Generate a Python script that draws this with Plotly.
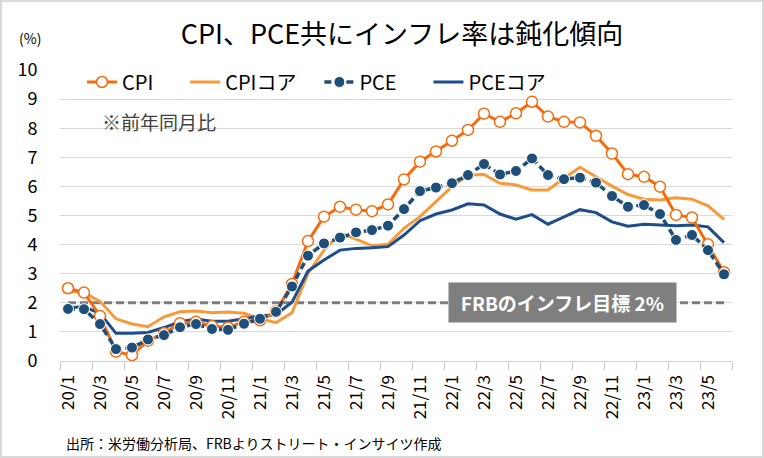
import plotly.graph_objects as go

months = ["20/1","20/2","20/3","20/4","20/5","20/6","20/7","20/8","20/9","20/10","20/11","20/12",
          "21/1","21/2","21/3","21/4","21/5","21/6","21/7","21/8","21/9","21/10","21/11","21/12",
          "22/1","22/2","22/3","22/4","22/5","22/6","22/7","22/8","22/9","22/10","22/11","22/12",
          "23/1","23/2","23/3","23/4","23/5","23/6"]

tick_labels = ["20/1","20/3","20/5","20/7","20/9","20/11","21/1","21/3","21/5","21/7","21/9",
               "21/11","22/1","22/3","22/5","22/7","22/9","22/11","23/1","23/3","23/5"]

cpi = [2.5, 2.35, 1.55, 0.32, 0.2, 0.7, 0.95, 1.3, 1.35, 1.2, 1.15, 1.35,
       1.4, 1.7, 2.65, 4.12, 4.96, 5.3, 5.2, 5.15, 5.38, 6.24, 6.85, 7.2,
       7.57, 7.94, 8.5, 8.22, 8.51, 8.91, 8.4, 8.22, 8.2, 7.74, 7.13, 6.42,
       6.33, 5.99, 5.02, 4.93, 4.01, 3.05]

cpi_core = [2.4, 2.35, 2.05, 1.45, 1.27, 1.18, 1.52, 1.69, 1.72, 1.66, 1.68, 1.64,
            1.45, 1.32, 1.66, 3.01, 3.81, 4.39, 4.19, 3.96, 4.01, 4.56, 4.96, 5.48,
            5.99, 6.39, 6.41, 6.11, 6.05, 5.88, 5.88, 6.28, 6.66, 6.33, 6.01, 5.72,
            5.56, 5.53, 5.61, 5.56, 5.33, 4.87]

pce = [1.79, 1.78, 1.27, 0.41, 0.46, 0.74, 0.89, 1.16, 1.27, 1.10, 1.07, 1.28,
       1.45, 1.69, 2.56, 3.62, 4.04, 4.24, 4.42, 4.50, 4.65, 5.22, 5.84, 5.96,
       6.11, 6.39, 6.77, 6.41, 6.53, 6.96, 6.39, 6.25, 6.30, 6.13, 5.67, 5.30,
       5.36, 5.05, 4.16, 4.33, 3.81, 2.98]

pce_core = [1.83, 1.86, 1.64, 0.95, 0.95, 0.98, 1.15, 1.35, 1.44, 1.37, 1.37, 1.46,
            1.54, 1.60, 2.02, 3.09, 3.47, 3.81, 3.87, 3.89, 3.93, 4.33, 4.82, 5.05,
            5.19, 5.40, 5.36, 5.05, 4.87, 5.03, 4.70, 4.95, 5.20, 5.10, 4.78, 4.63,
            4.70, 4.67, 4.65, 4.67, 4.61, 4.07]

fed_target = 2

FONT = "Noto Sans CJK JP"
C_CPI = "#F56B0C"
C_CPIC = "#F89A3A"
C_PCE = "#1F4E79"
C_PCEC = "#1D4D8B"
NB = "\u00a0"

fig = go.Figure()

# FRB target dashed line
fig.add_trace(go.Scatter(x=months, y=[fed_target] * len(months), mode="lines",
                         line=dict(color="#7F7F7F", width=3, dash="8px,4px"),
                         showlegend=False, hoverinfo="skip"))

fig.add_trace(go.Scatter(x=months, y=cpi_core, mode="lines", name="CPIコア" + NB * 4,
                         line=dict(color=C_CPIC, width=3), legendrank=2))
fig.add_trace(go.Scatter(x=months, y=pce_core, mode="lines", name="PCEコア",
                         line=dict(color=C_PCEC, width=3), legendrank=4))
fig.add_trace(go.Scatter(x=months, y=cpi, mode="lines+markers", name="CPI" + NB * 6,
                         line=dict(color=C_CPI, width=3),
                         marker=dict(symbol="circle", size=11, color="white",
                                     line=dict(color=C_CPI, width=1.5)),
                         legendrank=1))
fig.add_trace(go.Scatter(x=months, y=pce, mode="lines+markers", name="PCE" + NB * 6,
                         line=dict(color=C_PCE, width=3.5, dash="7px,4px"),
                         marker=dict(symbol="circle", size=11, color=C_PCE,
                                     line=dict(color="white", width=1)),
                         legendrank=3))

# helper trace for boundary ticks axis
fig.add_trace(go.Scatter(x=[], y=[], xaxis="x2", showlegend=False, hoverinfo="skip"))

n = len(months)
boundary_ticks = [i - 0.5 for i in range(0, n + 1, 2)]

W, H = 764, 458
L, R, T, B = 60, 32, 70, 97
pw, ph = W - L - R, H - T - B

fig.update_layout(
    width=W, height=H,
    margin=dict(l=L, r=R, t=T, b=B),
    paper_bgcolor="white", plot_bgcolor="white",
    font=dict(family=FONT, color="#000000"),
    title=dict(text="CPI、PCE共にインフレ率は鈍化傾向", font=dict(size=27, family=FONT, color="#000"),
               x=402 / W, xref="container", xanchor="center",
               y=1 - 35 / H, yref="container", yanchor="middle"),
    showlegend=True,
    legend=dict(orientation="h", x=(82 - L) / pw, xanchor="left",
                y=(H - B - 82) / ph, yanchor="middle",
                font=dict(size=20, family=FONT, color="#000"),
                bgcolor="rgba(0,0,0,0)", traceorder="normal"),
    xaxis=dict(type="category", categoryorder="array", categoryarray=months,
               range=[-0.5, n - 0.5], tickmode="array", tickvals=tick_labels, ticktext=tick_labels,
               tickangle=-90, tickfont=dict(size=17, family=FONT, color="#000"),
               ticks="outside", ticklen=6, tickcolor="rgba(0,0,0,0)",
               showgrid=False, showline=True, linecolor="#D0D0D0", linewidth=1.3,
               zeroline=False),
    xaxis2=dict(overlaying="x", anchor="y", side="bottom", range=[-0.5, n - 0.5],
                tickmode="array", tickvals=boundary_ticks, showticklabels=False,
                ticks="outside", ticklen=8, tickcolor="#C8C8C8", tickwidth=1.3,
                showgrid=False, showline=False, zeroline=False),
    yaxis=dict(range=[0, 10], dtick=1, tick0=0, showgrid=True, gridcolor="#D9D9D9", gridwidth=1.3,
               zeroline=False, showline=False,
               ticks="outside", ticklen=18, tickcolor="rgba(0,0,0,0)",
               tickfont=dict(size=18, family=FONT, color="#000")),
    annotations=[
        dict(text="(%)", xref="paper", yref="paper", x=(30 - L) / pw, y=(H - B - 38) / ph,
             xanchor="center", yanchor="middle", showarrow=False,
             font=dict(size=14, family=FONT, color="#000")),
        dict(text="※前年同月比", xref="paper", yref="paper", x=(100 - L) / pw, y=(H - B - 121) / ph,
             xanchor="left", yanchor="middle", showarrow=False,
             font=dict(size=19, family=FONT, color="#404040")),
        dict(text="<b>FRBのインフレ目標 2%</b>", xref="x", yref="y", x=30.9, y=fed_target,
             xanchor="center", yanchor="middle", showarrow=False,
             font=dict(size=19, family=FONT, color="white"),
             bgcolor="#7F7F7F", width=213, height=25, borderpad=7),
        dict(text="出所：米労働分析局、FRBよりストリート・インサイツ作成", xref="paper", yref="paper",
             x=(64 - L) / pw, y=(H - B - 443) / ph, xanchor="left", yanchor="middle",
             showarrow=False, font=dict(size=14, family=FONT, color="#000")),
    ],
    shapes=[
        dict(type="rect", xref="paper", yref="paper",
             x0=(-L + 1) / pw, x1=(pw + R - 1) / pw,
             y0=(-B + 1) / ph, y1=(ph + T - 1) / ph,
             line=dict(color="#D9D9D9", width=2), fillcolor="rgba(0,0,0,0)", layer="above"),
    ],
)

fig.write_html("out.html", config={"displayModeBar": False},
               post_script="document.body.style.margin='0';document.body.style.padding='0';")
